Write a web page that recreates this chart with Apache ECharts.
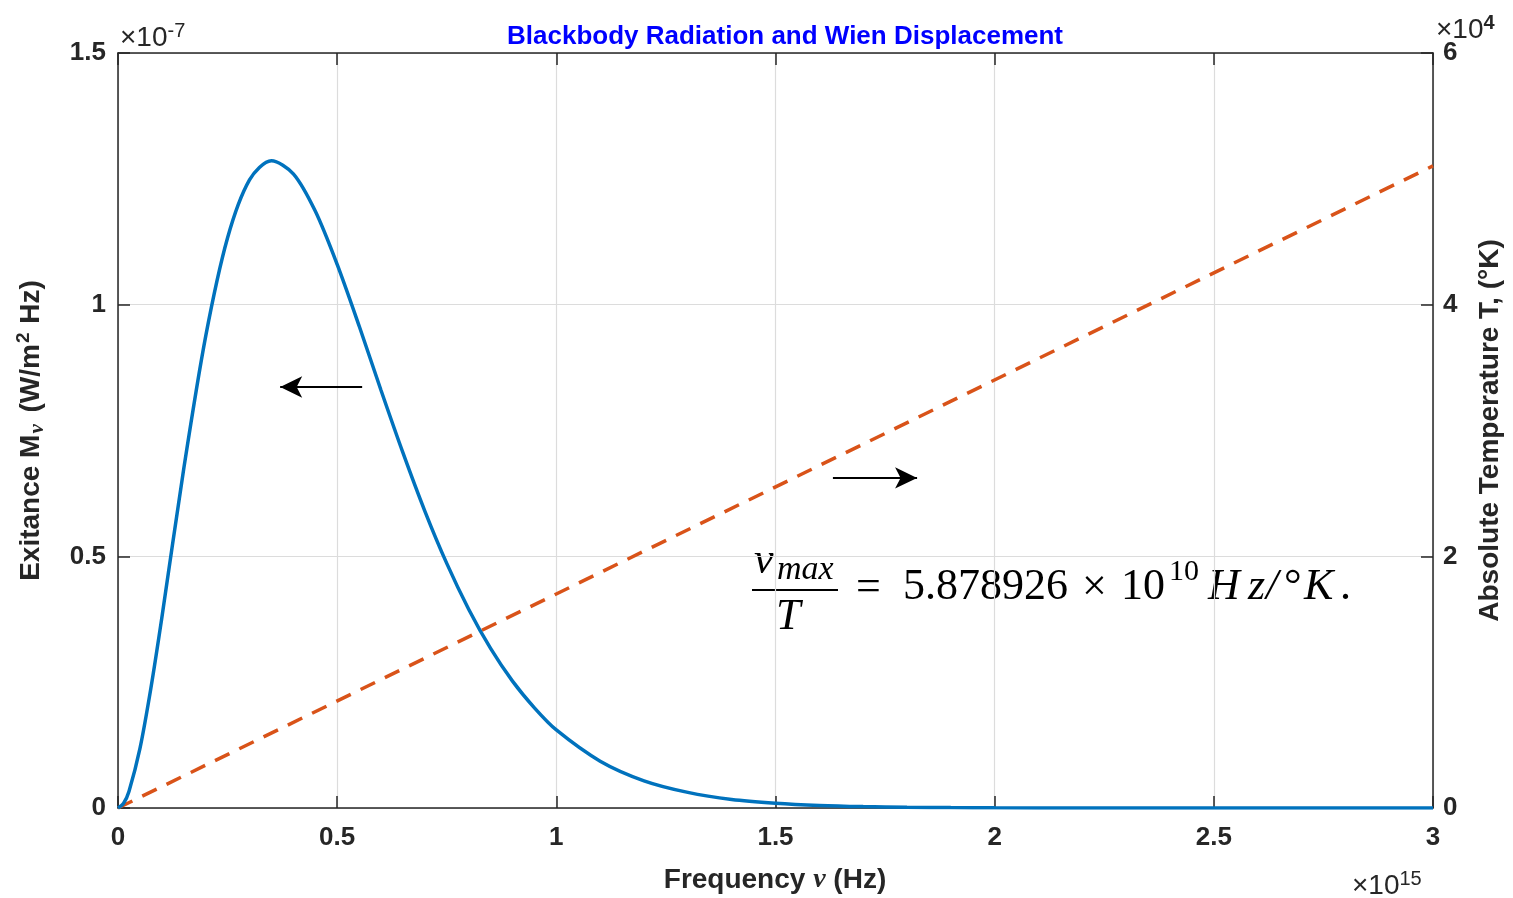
<!DOCTYPE html>
<html>
<head>
    <meta charset="utf-8">
    <title>Blackbody Radiation and Wien Displacement</title>
    <script src="https://cdn.jsdelivr.net/npm/echarts@6/dist/echarts.min.js"></script>
    <style>
        html, body { margin: 0; padding: 0; background: #fff; }
        #main { width: 1513px; height: 898px; }
    </style>
</head>
<body>
    <div id="main"></div>
    <script>
        // frequency in units of 1e15 Hz
        var freqX = [0, 0.0125, 0.025, 0.05, 0.075, 0.1, 0.15, 0.2, 0.25, 0.3, 0.35, 0.4, 0.45, 0.5, 0.55, 0.6,
            0.65, 0.7, 0.75, 0.8, 0.85, 0.9, 0.95, 1.0, 1.1, 1.2, 1.3, 1.4, 1.5, 1.6, 1.7, 1.8, 1.9, 2.0, 2.2, 2.5, 3.0];
        // exitance in units of 1e-7 W/m^2 Hz
        var exitance = [0, 0.009, 0.033, 0.118, 0.238, 0.378, 0.674, 0.937, 1.133, 1.248, 1.286, 1.260, 1.186, 1.080, 0.958, 0.830,
            0.706, 0.590, 0.486, 0.395, 0.317, 0.252, 0.199, 0.155, 0.093, 0.054, 0.031, 0.017, 0.0096, 0.0052, 0.0028, 0.0015, 0.0008, 0.0004, 0.0001, 0, 0];
        // absolute temperature (K) along the dashed line
        var tempX = [0, 3];
        var temperature = [0, 51030];
        var xTicks = ['0', '0.5', '1', '1.5', '2', '2.5', '3'];
        var leftTicks = ['0', '0.5', '1', '1.5'];
        var rightTicks = ['0', '2', '4', '6'];

        // arrows (data coords)
        var leftArrow = [[0.557, 0.8365], [0.37, 0.8365]];
        var rightArrow = [[1.631, 26230], [1.823, 26230]];

        var txt = '#262626';
        var sans = 'Liberation Sans, Arial, sans-serif';
        var serif = 'Liberation Serif, Times New Roman, serif';

        var zip = function (a, b) {
            var out = [];
            for (var i = 0; i < a.length; i++) out.push([a[i], b[i]]);
            return out;
        };

        // plain text piece for the equation, centred vertically on y
        var eq = function (s, x, y, size, italic) {
            return { type: 'text', style: { text: s, x: x, y: y, verticalAlign: 'middle', fontSize: size,
                fontStyle: italic ? 'italic' : 'normal', fontFamily: serif, fill: '#000' } };
        };

        var chart = echarts.init(document.getElementById('main'));

        var tickLabel = { fontSize: 26, fontWeight: 'bold', color: txt, fontFamily: sans };
        var axLine = { onZero: false, lineStyle: { color: txt, width: 1.5 } };
        var axTick = { show: true, inside: true, length: 12, lineStyle: { color: txt, width: 1.5 } };

        var option = {
            animation: false,
            backgroundColor: '#fff',
            title: {
                text: 'Blackbody Radiation and Wien Displacement',
                left: 780, top: 19, textAlign: 'center',
                textStyle: { color: '#0000ff', fontSize: 26, fontWeight: 'bold', fontFamily: sans }
            },
            grid: { left: 118, right: 80, top: 53, bottom: 90, containLabel: false },
            xAxis: [{
                type: 'value', min: 0, max: 3, interval: 0.5, position: 'bottom',
                axisLine: axLine, axisTick: axTick,
                axisLabel: Object.assign({ margin: 17, formatter: function (v) { return xTicks[Math.round(v / 0.5)]; } }, tickLabel),
                splitLine: { show: true, lineStyle: { color: '#dcdcdc', width: 1.2 } }
            }, {
                type: 'value', min: 0, max: 3, interval: 0.5, position: 'top',
                axisLine: axLine, axisTick: axTick,
                axisLabel: { show: false },
                splitLine: { show: false }
            }],
            yAxis: [{
                type: 'value', min: 0, max: 1.5, interval: 0.5, position: 'left',
                axisLine: Object.assign({ show: true }, axLine), axisTick: axTick,
                axisLabel: Object.assign({ margin: 12, formatter: function (v) { return leftTicks[Math.round(v / 0.5)]; } }, tickLabel),
                splitLine: { show: true, lineStyle: { color: '#dcdcdc', width: 1.2 } },
                name: '{a|Exitance M}{sub|ν}{a| (W/m}{sup|2}{a| Hz)}',
                nameLocation: 'middle', nameRotate: 90, nameGap: 70,
                nameTextStyle: {
                    fontFamily: sans, color: txt,
                    rich: {
                        a: { fontSize: 28, fontWeight: 'bold', fontFamily: sans, color: txt, lineHeight: 34 },
                        sub: { fontSize: 21, fontWeight: 'bold', fontStyle: 'italic', fontFamily: serif, color: txt, verticalAlign: 'bottom', padding: [0, 4, 0, 1], lineHeight: 34 },
                        sup: { fontSize: 19, fontWeight: 'bold', fontFamily: sans, color: txt, verticalAlign: 'top', padding: [0, 1, 12, 1], lineHeight: 34 }
                    }
                }
            }, {
                type: 'value', min: 0, max: 60000, interval: 20000, position: 'right',
                axisLine: Object.assign({ show: true }, axLine), axisTick: axTick,
                axisLabel: Object.assign({ margin: 10, formatter: function (v) { return rightTicks[Math.round(v / 20000)]; } }, tickLabel),
                splitLine: { show: false },
                name: 'Absolute Temperature T, (°K)',
                nameLocation: 'middle', nameRotate: 90, nameGap: 43,
                nameTextStyle: { fontSize: 28, fontWeight: 'bold', fontFamily: sans, color: txt }
            }],
            series: [{
                name: 'Exitance', type: 'line', xAxisIndex: 0, yAxisIndex: 0,
                data: zip(freqX, exitance), showSymbol: false, smooth: 0.3,
                lineStyle: { color: '#0072BD', width: 3.5 }, z: 3,
                markLine: {
                    silent: true, symbol: ['none', 'arrow'], symbolSize: [16, 22],
                    label: { show: false },
                    lineStyle: { color: '#000', width: 2, type: 'solid' },
                    data: [[{ coord: leftArrow[0] }, { coord: leftArrow[1] }]]
                }
            }, {
                name: 'Temperature', type: 'line', xAxisIndex: 0, yAxisIndex: 1,
                data: zip(tempX, temperature), showSymbol: false,
                lineStyle: { color: '#D95319', width: 3.5, type: [16, 11] }, z: 2,
                markLine: {
                    silent: true, symbol: ['none', 'arrow'], symbolSize: [16, 22],
                    label: { show: false },
                    lineStyle: { color: '#000', width: 2, type: 'solid' },
                    data: [[{ coord: rightArrow[0] }, { coord: rightArrow[1] }]]
                }
            }],
            graphic: [
                // axis exponents
                { type: 'text', style: { x: 120, y: 38, verticalAlign: 'middle', text: '{a|×10}{s|-7}', rich: {
                    a: { fontSize: 28, fontFamily: sans, fill: txt },
                    s: { fontSize: 20, fontFamily: sans, fill: txt, verticalAlign: 'top', padding: [0, 0, 14, 0] } } } },
                { type: 'text', style: { x: 1436, y: 30, verticalAlign: 'middle', text: '{a|×10}{s|4}', rich: {
                    a: { fontSize: 28, fontFamily: sans, fill: txt },
                    s: { fontSize: 20, fontFamily: sans, fill: txt, fontWeight: 'bold', verticalAlign: 'top', padding: [0, 0, 14, 0] } } } },
                { type: 'text', style: { x: 1352, y: 886, verticalAlign: 'middle', text: '{a|×10}{s|15}', rich: {
                    a: { fontSize: 28, fontFamily: sans, fill: txt },
                    s: { fontSize: 20, fontFamily: sans, fill: txt, verticalAlign: 'top', padding: [0, 0, 14, 0] } } } },
                // x axis title
                { type: 'text', style: { x: 775, y: 880, align: 'center', verticalAlign: 'middle', text: '{a|Frequency }{g|ν}{a| (Hz)}', rich: {
                    a: { fontSize: 28, fontWeight: 'bold', fontFamily: sans, fill: txt },
                    g: { fontSize: 28, fontWeight: 'bold', fontStyle: 'italic', fontFamily: serif, fill: txt } } } },
                // Wien equation: fraction
                eq('ν', 754, 561, 44, true),
                eq('max', 777, 570, 34, true),
                { type: 'rect', shape: { x: 752, y: 589, width: 86, height: 2 }, style: { fill: '#000' } },
                eq('T', 776, 617, 44, true),
                // right-hand side
                eq('=', 856, 588, 44, false),
                eq('5.878926', 903, 587, 44, false),
                eq('×', 1082, 588, 44, false),
                eq('10', 1121, 587, 44, false),
                eq('10', 1169, 572, 30, false),
                eq('H', 1208, 587, 44, true),
                eq('z', 1248, 587, 44, true),
                eq('/', 1266, 587, 44, true),
                eq('°', 1284, 587, 44, false),
                eq('K', 1304, 587, 44, true),
                eq('.', 1340, 587, 44, false)
            ]
        };

        chart.setOption(option);
    </script>
</body>
</html>
